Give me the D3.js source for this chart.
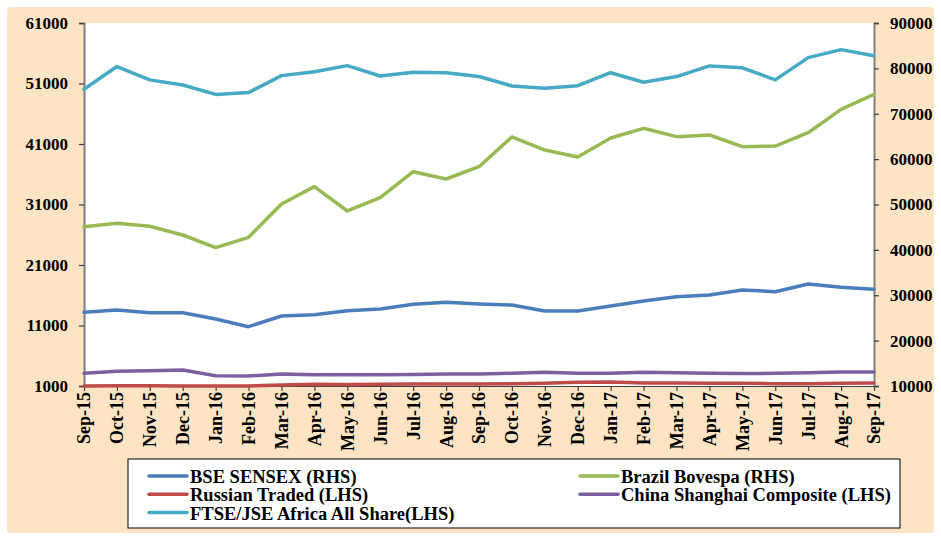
<!DOCTYPE html>
<html>
<head>
<meta charset="utf-8">
<script src="https://cdn.jsdelivr.net/npm/d3@7"></script>
<style>
  html, body { margin: 0; padding: 0; background: #ffffff; }
  svg { display: block; }
</style>
</head>
<body>
<svg id="chart" width="941" height="540"></svg>
<script>
const months = ["Sep-15","Oct-15","Nov-15","Dec-15","Jan-16","Feb-16","Mar-16","Apr-16","May-16","Jun-16","Jul-16","Aug-16",
                "Sep-16","Oct-16","Nov-16","Dec-16","Jan-17","Feb-17","Mar-17","Apr-17","May-17","Jun-17","Jul-17","Aug-17","Sep-17"];

// RHS series
const bseSensex = [26240,26750,26160,26160,24770,23070,25430,25720,26600,26970,28000,28450,
                   28070,27850,26530,26530,27630,28730,29680,30050,31160,30780,32480,31750,31310];
const brazilBovespa = [45100,45850,45200,43280,40500,42770,50100,53930,48570,51500,57230,55620,
                       58330,64880,62010,60470,64650,66790,64950,65320,62740,62890,65820,70980,74290];
// LHS series
const russianTraded = [1000,1050,1050,1000,1000,1000,1170,1280,1250,1280,1330,1330,
                       1330,1380,1440,1610,1660,1500,1500,1450,1440,1380,1380,1450,1500];
const chinaShanghai = [3100,3430,3530,3640,2700,2650,2980,2870,2870,2870,2920,2980,
                       2980,3100,3260,3100,3100,3260,3210,3100,3050,3100,3210,3320,3320];
const ftseJse = [50041,53800,51600,50750,49200,49500,52300,52950,53950,52240,52850,52780,
                 52150,50590,50200,50640,52780,51200,52150,53900,53600,51600,55270,56600,55600];

const leftTicks = [1000,11000,21000,31000,41000,51000,61000];
const rightTicks = [10000,20000,30000,40000,50000,60000,70000,80000,90000];

const seriesNames = ["BSE SENSEX (RHS)","Brazil Bovespa (RHS)","Russian Traded (LHS)","China Shanghai Composite (LHS)","FTSE/JSE Africa All Share(LHS)"];
const seriesColors = ["#4A7EBB","#98B954","#BE4B48","#7D60A0","#46AAC5"];

const FONT = '"Liberation Serif", "Times New Roman", Times, "DejaVu Serif", serif';
const svg = d3.select("#chart");
const L = 84, R = 874, T = 23, B = 386;

// outer peach background
svg.append("rect").attr("x",7).attr("y",7).attr("width",927).attr("height",526)
  .attr("rx",4).attr("fill","#FDE4C4");
// plot area
svg.append("rect").attr("x",L).attr("y",T).attr("width",R-L).attr("height",B-T).attr("fill","#ffffff");

const x = d3.scalePoint().domain(months).range([L,R]);
const yL = d3.scaleLinear().domain([1000,61000]).range([B,T]);
const yR = d3.scaleLinear().domain([10000,90000]).range([B,T]);

const series = [
  {name: seriesNames[0], values: bseSensex, y: yR, color: seriesColors[0]},
  {name: seriesNames[1], values: brazilBovespa, y: yR, color: seriesColors[1]},
  {name: seriesNames[2], values: russianTraded, y: yL, color: seriesColors[2]},
  {name: seriesNames[3], values: chinaShanghai, y: yL, color: seriesColors[3]},
  {name: seriesNames[4], values: ftseJse, y: yL, color: seriesColors[4]}
];

// axes
const gL = svg.append("g").attr("transform",`translate(${L},0)`)
  .call(d3.axisLeft(yL).tickValues(leftTicks).tickSize(5).tickPadding(11).tickFormat(d3.format("d")));
const gR = svg.append("g").attr("transform",`translate(${R},0)`)
  .call(d3.axisRight(yR).tickValues(rightTicks).tickSize(5).tickPadding(11).tickFormat(d3.format("d")));
const gX = svg.append("g").attr("transform",`translate(0,${B})`)
  .call(d3.axisBottom(x).tickSize(5).tickSizeOuter(0));

[gL,gR].forEach(g => g.attr("font-size", 17));
gX.attr("font-size", 18);
[gL,gR,gX].forEach(g => {
  g.attr("font-family", FONT).attr("font-weight","bold");
  g.selectAll(".tick line").attr("stroke","#404040").attr("stroke-width",1.2);
  g.selectAll(".tick text").attr("fill","#000");
});
[gL,gR].forEach(g => g.select(".domain").attr("stroke","#7f7f7f").attr("stroke-width",2));
gX.select(".domain").attr("stroke","#404040").attr("stroke-width",1.2);
gX.selectAll(".tick text")
  .attr("transform","rotate(-90)")
  .attr("text-anchor","end")
  .attr("x",-6).attr("y",0).attr("dy","0.33em");

// lines
series.forEach(s => {
  const line = d3.line().x((d,i) => x(months[i])).y(d => s.y(d));
  svg.append("path").datum(s.values)
    .attr("d", line)
    .attr("fill","none")
    .attr("stroke", s.color)
    .attr("stroke-width",3.5)
    .attr("stroke-linejoin","round")
    .attr("stroke-linecap","round");
});

// legend
const lg = svg.append("g").attr("font-family", FONT).attr("font-weight","bold").attr("font-size",18.5);
lg.append("rect").attr("x",128).attr("y",459).attr("width",772).attr("height",69)
  .attr("fill","#ffffff").attr("stroke","#000").attr("stroke-width",1);
const legendPos = [
  {x:149, row:0},{x:580,row:0},{x:149,row:1},{x:580,row:1},{x:149,row:2}
];
series.forEach((s,i) => {
  const p = legendPos[i];
  const yb = 483 + p.row*18.3;
  lg.append("line").attr("x1",p.x).attr("x2",p.x+38).attr("y1",yb-7).attr("y2",yb-7)
    .attr("stroke",s.color).attr("stroke-width",3.5).attr("stroke-linecap","round");
  lg.append("text").attr("x",p.x+41).attr("y",yb).attr("fill","#000").text(s.name);
});
</script>
</body>
</html>
